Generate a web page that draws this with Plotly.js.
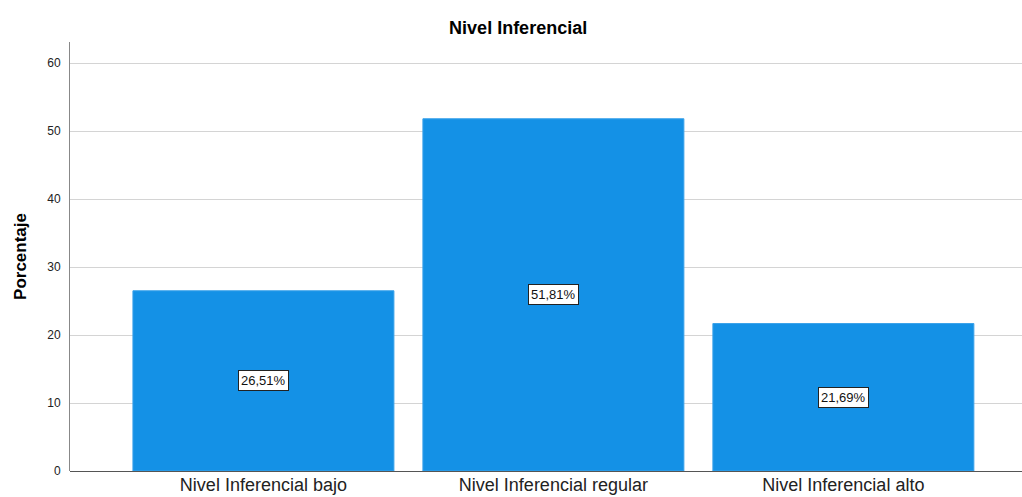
<!DOCTYPE html>
<html>
<head>
<meta charset="utf-8">
<script src="https://cdn.plot.ly/plotly-3.0.1.min.js"></script>
<style>
  html, body { margin: 0; padding: 0; background: #fff; }
  #chart { width: 1022px; height: 497px; }
</style>
</head>
<body>
<div id="chart"></div>
<script>
// Categories and percentages
const categories = ['Nivel Inferencial bajo', 'Nivel Inferencial regular', 'Nivel Inferencial alto'];
const percentages = [26.51, 51.81, 21.69];
const yTicks = [0, 10, 20, 30, 40, 50, 60];

// Percent labels in Spanish number format (comma decimals)
const fmt = v => v.toFixed(2).replace('.', ',') + '%';

const trace = {
  type: 'bar',
  x: categories,
  y: percentages,
  width: 0.9,
  marker: { color: '#1491e6', line: { color: '#3aa2ea', width: 1 } },
  hoverinfo: 'skip'
};

const annotations = categories.map((c, i) => ({
  x: c,
  y: percentages[i] / 2,
  xref: 'x',
  yref: 'y',
  text: fmt(percentages[i]),
  showarrow: false,
  bgcolor: '#ffffff',
  bordercolor: '#222222',
  borderwidth: 1,
  borderpad: 2,
  font: { family: 'Liberation Sans, Arial, sans-serif', size: 13, color: '#111' }
}));

const layout = {
  width: 1022,
  height: 497,
  margin: { l: 70, r: 0, t: 42, b: 26, pad: 0 },
  paper_bgcolor: '#ffffff',
  plot_bgcolor: '#ffffff',
  showlegend: false,
  title: {
    text: '<b>Nivel Inferencial</b>',
    x: 0.507,
    xref: 'container',
    xanchor: 'center',
    y: 0.945,
    yref: 'container',
    yanchor: 'middle',
    font: { family: 'Liberation Sans, Arial, sans-serif', size: 18, color: '#000' }
  },
  xaxis: {
    type: 'category',
    range: [-0.667, 2.616],
    showgrid: false,
    zeroline: false,
    showline: false,
    ticks: '',
    ticklen: 0,
    ticklabelstandoff: 1,
    tickfont: { family: 'Liberation Sans, Arial, sans-serif', size: 18, color: '#222' }
  },
  yaxis: {
    range: [0, 63.1],
    tickvals: yTicks,
    ticktext: yTicks.map(String),
    showgrid: true,
    gridcolor: '#d4d4d4',
    gridwidth: 1,
    zeroline: true,
    zerolinecolor: '#555555',
    zerolinewidth: 1,
    showline: true,
    linecolor: '#888888',
    linewidth: 1,
    ticks: '',
    ticklabelstandoff: 6,
    tickfont: { family: 'Liberation Sans, Arial, sans-serif', size: 12, color: '#222' },
    title: {
      text: '<b>Porcentaje</b>',
      standoff: 16,
      font: { family: 'Liberation Sans Narrow, Liberation Sans, Arial, sans-serif', size: 17, color: '#000' }
    }
  },
  annotations: annotations
};

Plotly.newPlot('chart', [trace], layout, { displayModeBar: false, staticPlot: true });
</script>
</body>
</html>
